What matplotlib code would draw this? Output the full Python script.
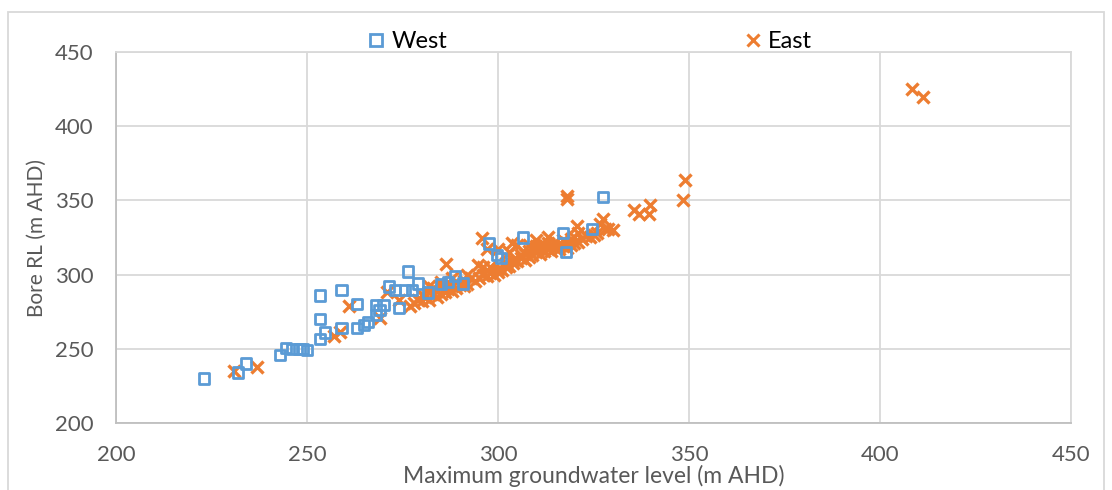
import matplotlib
matplotlib.use("Agg")
import matplotlib.pyplot as plt
from matplotlib.lines import Line2D
from matplotlib.patches import Rectangle

plt.rcParams['font.family'] = ['Lato', 'DejaVu Sans']

west_x = [223, 232, 234, 243, 244.5, 246, 248, 249, 250, 253.4, 253.4, 253.4, 254.7, 259, 259,
          263, 263, 265, 266, 268, 268, 269, 270, 271.5, 273, 274, 275.6, 276.4, 277.5, 279,
          281.7, 285, 287, 288.7, 290.8, 297.6, 299.7, 300.8, 306.5, 317, 317.8, 324.6, 327.5]
west_y = [230, 234, 240, 246, 250.5, 250, 250, 250, 249, 286, 270, 256.6, 261, 289.6, 264,
          280, 264, 266, 268, 279.5, 273, 276, 279.5, 292, 289.6, 277.5, 289.6, 302, 289.6, 294,
          288, 293.7, 295, 299, 294, 321, 313, 311, 325, 328, 315, 330.7, 352.3]

east_x = [231, 237, 257, 258.6, 261, 269, 271, 274, 295.8, 294.8, 286.4, 297, 300, 303.7,
          318, 318, 320.7, 326.7, 327.5, 328.8, 335.6, 337, 339.5, 339.8, 348.4, 349, 408.4, 411.3,
          277, 278, 279, 280, 280, 281, 282, 282, 283, 283, 284, 284, 285, 285, 286, 286, 287, 287,
          288, 288, 289, 289, 290, 291, 291, 292, 293, 294, 295, 296, 297, 298, 299, 300, 300, 301,
          302, 302, 303, 304, 304, 305, 306, 306, 307, 307, 308, 308, 309, 309, 310, 310, 311, 311,
          312, 312, 313, 313, 314, 314, 315, 315, 316, 316, 317, 317, 318, 318, 319, 319, 320, 320,
          321, 322, 323, 324, 325, 326, 328, 330, 321, 313, 310, 305, 308, 303, 298, 296, 292, 288,
          285, 282]
east_y = [235, 237.7, 258.6, 261, 279, 270.8, 288, 283, 324.7, 306.5, 307, 317, 317, 321,
          353, 351, 332.7, 334, 337.5, 330.7, 343.5, 340.8, 340.8, 347, 350, 364, 425, 420,
          279, 281, 283, 282, 286, 285, 283, 288, 287, 291, 285, 289, 287, 292, 288, 291, 290, 294,
          289, 292, 291, 295, 293, 292, 296, 294, 298, 296, 298, 300, 299, 301, 300, 302, 304, 303,
          305, 308, 306, 308, 310, 309, 311, 313, 310, 314, 312, 316, 313, 317, 315, 319, 314, 318,
          316, 320, 317, 321, 316, 319, 318, 322, 317, 320, 319, 323, 318, 321, 320, 324, 321, 325,
          322, 324, 326, 325, 327, 328, 331, 330, 328, 325, 323, 320, 320, 315, 305, 305, 300, 298,
          295, 292]

x_ticks = [200, 250, 300, 350, 400, 450]
y_ticks = [200, 250, 300, 350, 400, 450]

W, H = 1112, 490
fig = plt.figure(figsize=(W / 100, H / 100), dpi=100)
ax = fig.add_axes([116 / W, 1 - 423 / H, (1071 - 116) / W, (423 - 52) / H])

blue = '#5B9BD5'
orange = '#ED7D31'
grid_c = '#D9D9D9'
text_c = '#595959'

ax.scatter(east_x, east_y, marker='x', s=75, c=orange, linewidths=2.4, zorder=3)
ax.scatter(west_x, west_y, marker='s', s=55, facecolors='none', edgecolors=blue,
           linewidths=2.0, zorder=4)

ax.set_xlim(200, 450)
ax.set_ylim(200, 450)
ax.set_xticks(x_ticks)
ax.set_yticks(y_ticks)
ax.grid(True, color=grid_c, linewidth=1.3)
ax.set_axisbelow(True)
for s in ax.spines.values():
    s.set_color(grid_c)
    s.set_linewidth(1.3)
ax.spines['bottom'].set_color('#BFBFBF')
ax.spines['left'].set_color('#BFBFBF')
ax.tick_params(length=0, labelsize=16, colors=text_c)
ax.tick_params(axis='y', pad=16)
ax.tick_params(axis='x', pad=16)
ax.set_xlabel('Maximum groundwater level (m AHD)', fontsize=16.5, color=text_c, labelpad=0)
ax.set_ylabel('Bore RL (m AHD)', fontsize=15, color=text_c, labelpad=6)

handles = [Line2D([], [], marker='s', linestyle='none', markerfacecolor='none',
                  markeredgecolor=blue, markeredgewidth=2.0, markersize=8, label='West'),
           Line2D([], [], marker='x', linestyle='none', color=orange,
                  markeredgewidth=2.2, markersize=9, label='East')]
fig.legend(handles=handles, loc='center', bbox_to_anchor=(0.529, 0.915), ncol=2,
           frameon=False, fontsize=17, columnspacing=12.45, handletextpad=0.15,
           handlelength=1.0)

fig.patches.append(Rectangle((8 / W, -0.1), (1104 - 8) / W, 1.1 - 12 / H,
                             transform=fig.transFigure, fill=False,
                             edgecolor='#D9D9D9', linewidth=1.3))

fig.savefig('out.png', dpi=100)
